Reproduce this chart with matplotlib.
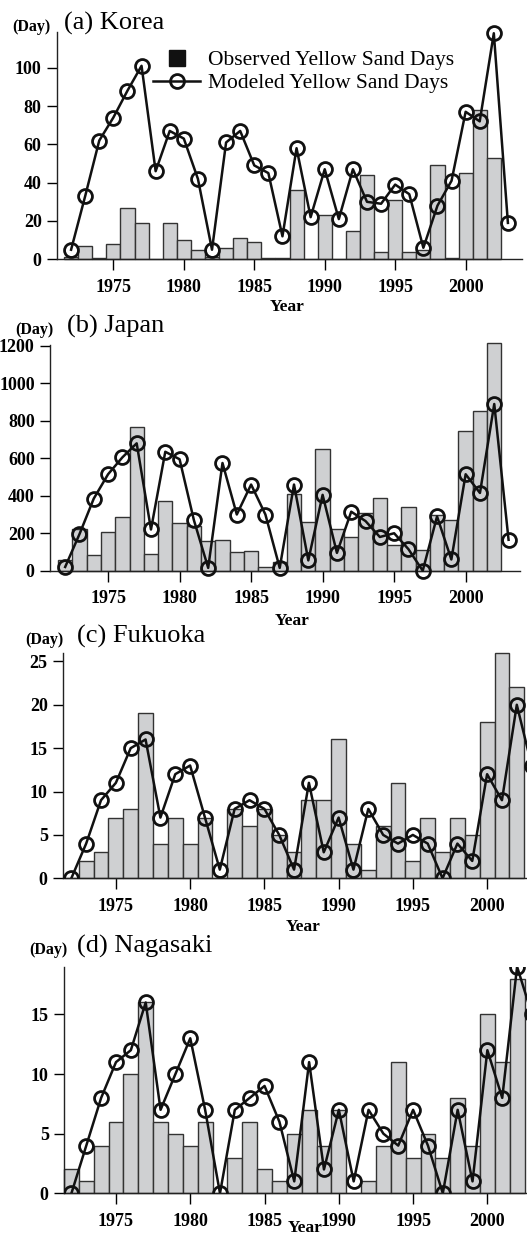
import matplotlib.pyplot as plt
import numpy as np
from matplotlib.lines import Line2D

plt.rcParams['font.family'] = ['Liberation Serif', 'DejaVu Serif']

obs_years = np.arange(1972, 2003)
mod_years = np.arange(1972, 2004)

korea_obs = [1, 7, 0.5, 8, 27, 19, 0, 19, 10, 5, 1, 6, 11, 9, 0.5, 0.5, 36, 0, 23, 0, 15, 44, 4, 31, 4, 5, 49, 0.5, 45, 78, 53]
korea_mod = [5, 33, 62, 74, 88, 101, 46, 67, 63, 42, 5, 61, 67, 49, 45, 12, 58, 22, 47, 21, 47, 30, 29, 39, 34, 6, 28, 41, 77, 72, 118, 19]

japan_obs = [55, 220, 85, 205, 285, 765, 90, 370, 255, 240, 160, 165, 100, 105, 20, 45, 410, 260, 650, 220, 180, 310, 390, 135, 340, 110, 300, 270, 745, 855, 1215]
japan_mod = [20, 195, 385, 515, 605, 680, 220, 635, 595, 270, 15, 575, 300, 460, 300, 15, 460, 55, 405, 95, 315, 265, 180, 200, 115, 0, 290, 60, 515, 415, 890, 165]

fukuoka_obs = [0, 2, 3, 7, 8, 19, 4, 7, 4, 7, 0, 8, 6, 8, 5, 3, 9, 9, 16, 4, 1, 6, 11, 2, 7, 3, 7, 5, 18, 26, 22]
fukuoka_mod = [0, 4, 9, 11, 15, 16, 7, 12, 13, 7, 1, 8, 9, 8, 5, 1, 11, 3, 7, 1, 8, 5, 4, 5, 4, 0, 4, 2, 12, 9, 20, 13]

nagasaki_obs = [2, 1, 4, 6, 10, 16, 6, 5, 4, 6, 0, 3, 6, 2, 1, 5, 7, 4, 7, 0, 1, 4, 11, 3, 5, 3, 8, 4, 15, 11, 18]
nagasaki_mod = [0, 4, 8, 11, 12, 16, 7, 10, 13, 7, 0, 7, 8, 9, 6, 1, 11, 2, 7, 1, 7, 5, 4, 7, 4, 0, 7, 1, 12, 8, 19, 15]

W, H = 527, 1236
fig = plt.figure(figsize=(W / 100, H / 100), dpi=100)

# name, obs, mod, [left, right, top, bottom] in px, xlim, ylim top, yticks, title x, day x, title baseline, year label (x, y)
panels = [
    ('(a) Korea', korea_obs, korea_mod, (57, 522, 31.7, 259.3), (1971.0, 2004.0), 118.8, np.arange(0, 101, 20), 64, 12, 30, (287, 311)),
    ('(b) Japan', japan_obs, japan_mod, (50, 520, 345.0, 570.7), (1970.94, 2003.8), 1205, np.arange(0, 1201, 200), 67, 15, 333, (292, 625)),
    ('(c) Fukuoka', fukuoka_obs, fukuoka_mod, (63, 546.5, 652.7, 878.3), (1971.44, 2004.0), 26, np.arange(0, 26, 5), 77, 25, 643, (303, 931)),
    ('(d) Nagasaki', nagasaki_obs, nagasaki_mod, (64, 546.8, 966.7, 1193.3), (1971.5, 2004.0), 19, np.arange(0, 16, 5), 77, 29, 953, (305, 1232)),
]

for i, (name, obs, mod, box, xl, ytop, yt, tx, dx, ty, yl) in enumerate(panels):
    l, r, t, b = box
    ax = fig.add_axes([l / W, 1 - b / H, (r - l) / W, (b - t) / H])
    ax.bar(obs_years, obs, width=1.0, color='#cfd0d2', edgecolor='#333333', linewidth=1.0, clip_on=False, zorder=2)
    ax.plot(mod_years, mod, '-', color='#111111', lw=1.8, marker='o', ms=10, mfc='none', mec='#111111', mew=2.0,
            clip_on=(i >= 2), zorder=3)
    ax.set_xlim(xl)
    ax.set_ylim(0, ytop)
    ax.set_xticks([1975, 1980, 1985, 1990, 1995, 2000])
    ax.set_yticks(yt)
    ax.spines['top'].set_visible(False)
    ax.spines['right'].set_visible(False)
    for s in ('left', 'bottom'):
        ax.spines[s].set_linewidth(1.0)
        ax.spines[s].set_color('#222222')
    ax.tick_params(axis='x', direction='out', length=8, width=1.0, pad=6, labelsize=13)
    ax.tick_params(axis='y', direction='out', length=7, width=1.0, pad=4, labelsize=13)
    for lab in ax.get_xticklabels() + ax.get_yticklabels():
        lab.set_fontweight('bold')
    fig.text(tx / W, 1 - ty / H, name, fontsize=19, va='baseline', ha='left')
    fig.text(dx / W, 1 - (ty + 1) / H, '(Day)', fontsize=11.5, fontweight='bold', va='baseline', ha='left')
    fig.text(yl[0] / W, 1 - yl[1] / H, 'Year', fontsize=12.5, fontweight='bold', va='baseline', ha='center')

    if i == 0:
        handles = [Line2D([], [], ls='none', marker='s', ms=12, mfc='#111111', mec='#111111'),
                   Line2D([], [], color='#111111', lw=1.8, marker='o', ms=10, mfc='none', mew=2.0)]
        ax.legend(handles, ['Observed Yellow Sand Days', 'Modeled Yellow Sand Days'],
                  loc='upper left', bbox_to_anchor=(153 / W, 1 - 50 / H), bbox_transform=fig.transFigure,
                  frameon=False, fontsize=15.5, handlelength=2.2, handletextpad=0.35, labelspacing=0.15,
                  borderpad=0, borderaxespad=0)

fig.savefig('out.png', dpi=100)
